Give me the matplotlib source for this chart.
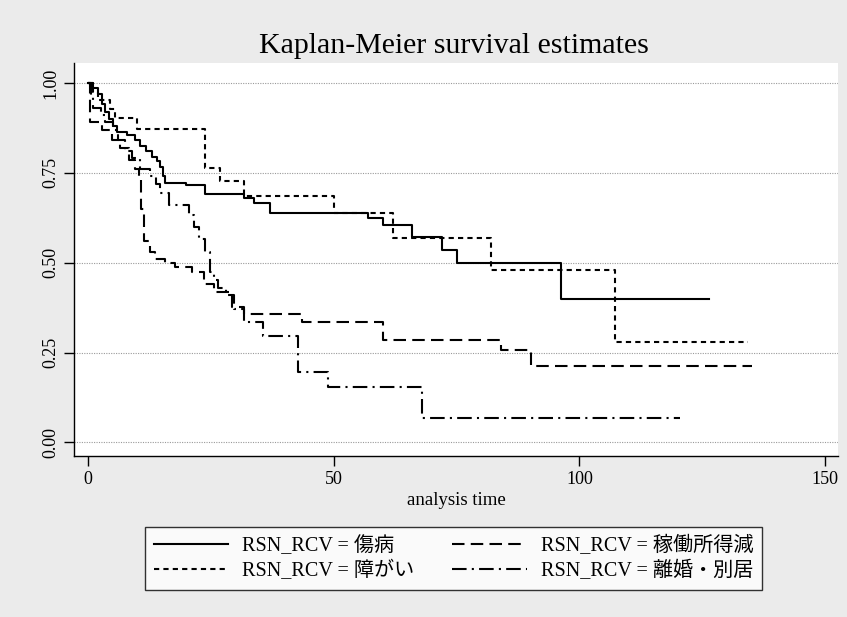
import matplotlib
matplotlib.use("Agg")
import matplotlib.pyplot as plt
import numpy as np

# ---- data ----
labels = ["RSN_RCV = 傷病", "RSN_RCV = 障がい", "RSN_RCV = 稼働所得減", "RSN_RCV = 離婚・別居"]

t_injury = [0, 1.0, 2.0, 2.7, 3.5, 4.3, 5.0, 5.8, 7.8, 9.5, 10.5, 11.7, 13.0, 14.0, 14.7, 15.2, 15.7,
            19.8, 23.8, 31.7, 33.8, 36.9, 56.9, 60.0, 66.0, 72.0, 75.0, 96.3, 126.3]
s_injury = [1.0, 0.985, 0.97, 0.94, 0.92, 0.90, 0.88, 0.863, 0.854, 0.84, 0.825, 0.81, 0.795, 0.784, 0.767, 0.742, 0.721,
            0.715, 0.69, 0.68, 0.666, 0.638, 0.623, 0.604, 0.572, 0.535, 0.50, 0.40, 0.40]

t_disab = [0, 1.0, 2.0, 4.4, 5.5, 9.9, 23.8, 26.8, 31.7, 50.0, 62.0, 82.0, 107.2, 134.4]
s_disab = [1.0, 0.976, 0.952, 0.928, 0.903, 0.873, 0.762, 0.728, 0.685, 0.638, 0.569, 0.479, 0.279, 0.279]

t_income = [0, 0.3, 2.7, 4.8, 6.5, 8.2, 9.5, 10.3, 10.8, 11.3, 12.6, 13.5, 15.7, 17.7, 21.1, 23.5, 25.6,
            29.3, 31.7, 43.6, 60.0, 84.1, 90.2, 135.2]
s_income = [1.0, 0.89, 0.869, 0.84, 0.82, 0.785, 0.76, 0.74, 0.65, 0.56, 0.53, 0.51, 0.498, 0.487, 0.474, 0.442, 0.419,
            0.377, 0.357, 0.335, 0.284, 0.256, 0.2126, 0.2126]

t_divorce = [0, 0.5, 1.0, 2.5, 3.5, 5.0, 6.0, 7.5, 9.0, 10.5, 12.5, 13.7, 14.7, 16.4, 20.5, 21.5, 22.5, 23.7,
             24.7, 25.6, 26.5, 28.0, 29.7, 31.7, 35.5, 42.8, 48.8, 67.9, 120.5]
s_divorce = [1.0, 0.96, 0.93, 0.91, 0.89, 0.87, 0.84, 0.81, 0.79, 0.76, 0.74, 0.72, 0.693, 0.66, 0.632, 0.60, 0.567, 0.53,
             0.474, 0.451, 0.43, 0.41, 0.372, 0.335, 0.295, 0.196, 0.154, 0.068, 0.068]

xticks = [0, 50, 100, 150]
yticks = [0.0, 0.25, 0.5, 0.75, 1.0]
ytick_labels = ["0.00", "0.25", "0.50", "0.75", "1.00"]

# ---- figure ----
serif = ["Liberation Serif", "Noto Sans CJK JP", "DejaVu Sans"]
plt.rcParams["font.family"] = serif

fig = plt.figure(figsize=(8.47, 6.17), dpi=100, facecolor="#ebebeb")
ax = fig.add_axes([0.0877, 0.261, 0.902, 0.637])
ax.set_facecolor("white")

ax.set_xlim(-2.85, 152.7)
ax.set_ylim(-0.0376, 1.0556)

for y in yticks:
    ax.axhline(y, color="#9a9a9a", lw=0.8, linestyle=(0, (1, 1.2)), zorder=0)

style = dict(color="black", lw=1.5, where="post")
ax.step(t_injury, s_injury, linestyle="-", label=labels[0], **style)
ax.step(t_income, s_income, linestyle=(0, (6, 3)), label=labels[2], **style)
ax.step(t_disab, s_disab, linestyle=(0, (2.5, 2)), label=labels[1], **style)
ax.step(t_divorce, s_divorce, linestyle=(0, (7, 2.5, 1, 2.5)), label=labels[3], **style)

for side in ("top", "right"):
    ax.spines[side].set_visible(False)
for side in ("left", "bottom"):
    ax.spines[side].set_linewidth(1.0)

ax.set_xticks(xticks)
ax.set_xticklabels([str(v) for v in xticks], fontsize=13)
ax.set_yticks(yticks)
ax.set_yticklabels(ytick_labels, fontsize=13, rotation=90, va="center")
ax.tick_params(length=7, width=1.0)

ax.set_xlabel("analysis time", fontsize=13.5, labelpad=3)
fig.text(0.536, 1 - 53 / 617, "Kaplan-Meier survival estimates", fontsize=21.5,
         ha="center", va="baseline")

handles, labs = ax.get_legend_handles_labels()
h_ord = [handles[labs.index(l)] for l in labels]
leg = fig.legend(h_ord, labels, loc="center", bbox_to_anchor=(0.5354, 0.0948), ncol=2,
                 fontsize=14.5, frameon=True, fancybox=False, edgecolor="black",
                 handlelength=3.7, handletextpad=0.7, columnspacing=1.85,
                 labelspacing=0.2, borderpad=0.45, borderaxespad=0)
leg.get_frame().set_linewidth(1.0)
leg.get_frame().set_facecolor("white")

fig.savefig("out.png", dpi=100, facecolor=fig.get_facecolor())
